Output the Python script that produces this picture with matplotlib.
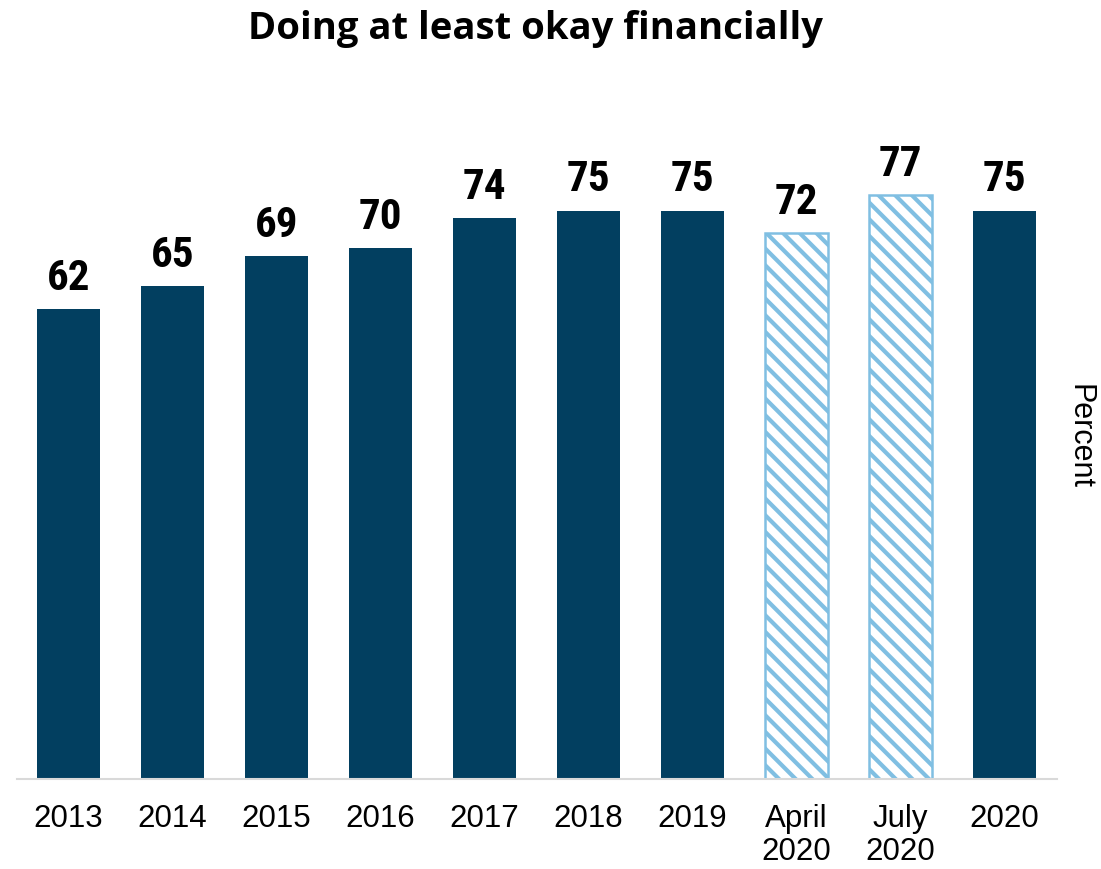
import matplotlib.pyplot as plt

categories = ['2013', '2014', '2015', '2016', '2017', '2018', '2019',
              'April\n2020', 'July\n2020', '2020']
values = [62, 65, 69, 70, 74, 75, 75, 72, 77, 75]
hatched = [False] * 7 + [True, True, False]

navy = '#023F60'
light = '#80BFE2'

plt.rcParams['font.family'] = ['Liberation Sans', 'DejaVu Sans']
plt.rcParams['hatch.linewidth'] = 3.0

fig = plt.figure(figsize=(11.01, 8.70), dpi=100)
ax = fig.add_axes([16.5 / 1101, 90 / 870, 1040 / 1101, 758 / 870])

x = list(range(len(values)))
for i, v in enumerate(values):
    if hatched[i]:
        ax.bar(i, v, width=0.6, facecolor='white', edgecolor=light,
               hatch='\\\\', linewidth=1.8)
    else:
        ax.bar(i, v, width=0.6, color=navy)
    ax.text(i, v + 2.64, str(v), ha='center', va='baseline', fontsize=31,
            fontweight='bold', family=['Roboto Condensed', 'Liberation Sans'])

ax.set_xlim(-0.5, len(values) - 0.5)
ax.set_ylim(0, 100)
ax.set_xticks(x)
ax.set_xticklabels(categories, fontsize=22.5, linespacing=1.15)
ax.tick_params(axis='x', length=0, pad=17)
ax.set_yticks([])
for s in ['top', 'left', 'right']:
    ax.spines[s].set_visible(False)
ax.spines['bottom'].set_color('#D9D9D9')
ax.spines['bottom'].set_linewidth(1.5)

fig.text(535 / 1101, 1 - 39 / 870, 'Doing at least okay financially',
         ha='center', va='baseline', fontsize=27.5, fontweight='bold',
         family=['Open Sans', 'DejaVu Sans'])
fig.text(1080 / 1101, 1 - 437 / 870, 'Percent', rotation=270,
         ha='center', va='center', fontsize=22)

fig.savefig('out.png', dpi=100)
